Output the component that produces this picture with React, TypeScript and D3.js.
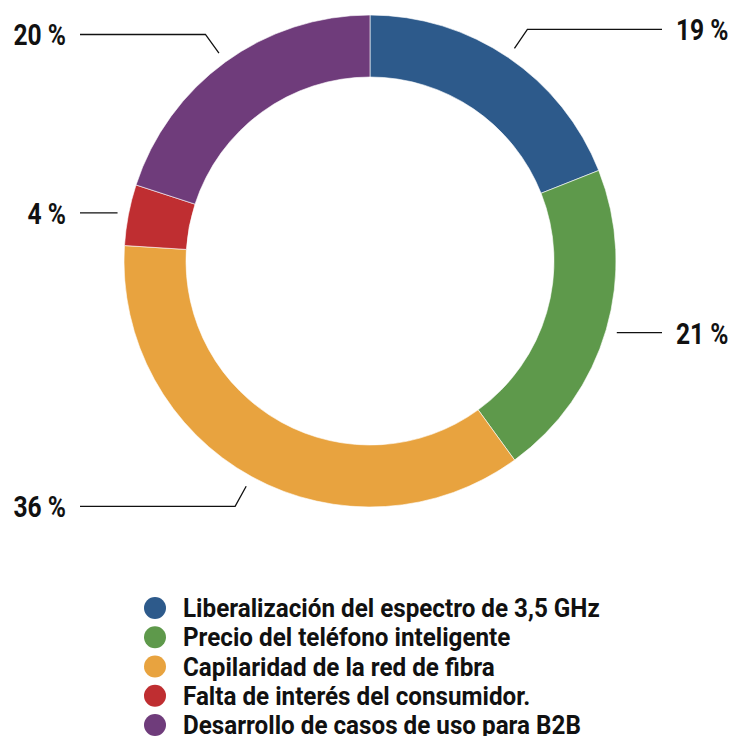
import React, { useEffect, useRef } from 'react';
import * as d3 from 'd3';

const categories = [
  'Liberalización del espectro de 3,5 GHz',
  'Precio del teléfono inteligente',
  'Capilaridad de la red de fibra',
  'Falta de interés del consumidor.',
  'Desarrollo de casos de uso para B2B',
];
const values = [19, 21, 36, 4, 20];
const colors = ['#2d5a8b', '#5e994b', '#e8a33f', '#bf2e31', '#6f3c7b'];

const FONT = 'Roboto, "DejaVu Sans", sans-serif';

const App = () => {
  const svgRef = useRef<SVGSVGElement>(null);

  useEffect(() => {
    const svg = d3.select(svgRef.current);
    svg.selectAll('*').remove();

    const cx = 370;
    const cy = 261;
    const outerR = 246;
    const innerR = 184;

    const data = values.map((v, i) => ({ name: categories[i], value: v, color: colors[i] }));

    const pie = d3.pie<any>().sort(null).value((d) => d.value);
    const arcs = pie(data);
    const arcGen = d3.arc<any>().innerRadius(innerR).outerRadius(outerR);

    const g = svg.append('g').attr('transform', `translate(${cx},${cy})`);

    g.selectAll('path.slice')
      .data(arcs)
      .join('path')
      .attr('class', 'slice')
      .attr('d', arcGen)
      .attr('fill', (d) => d.data.color)
      .attr('stroke', '#ffffff')
      .attr('stroke-width', 0.6);

    // leader lines + labels
    const r1 = 257;
    const r2 = 280;
    arcs.forEach((a) => {
      const mid = (a.startAngle + a.endAngle) / 2;
      const sx = Math.sin(mid);
      const sy = -Math.cos(mid);
      const p1: [number, number] = [sx * r1, sy * r1];
      let p2: [number, number] = [sx * r2, sy * r2];
      if (Math.abs(sx) > 0.9) p2 = [p1[0], p1[1]];
      const right = sx > 0;
      const endX = right ? 662 - cx : 80 - cx;
      const pts: [number, number][] = [p1, p2, [endX, p2[1]]];
      g.append('path')
        .attr('d', d3.line()(pts) as string)
        .attr('fill', 'none')
        .attr('stroke', '#111')
        .attr('stroke-width', 1.3);
      g.append('text')
        .attr('transform', `translate(${right ? 676 - cx : 66 - cx},${p2[1]}) scale(0.82,1)`)
        .attr('dy', '0.36em')
        .attr('text-anchor', right ? 'start' : 'end')
        .attr('font-family', FONT)
        .attr('font-weight', 700)
        .attr('font-size', 30)
        .attr('fill', '#111')
        .text(`${a.data.value} %`);
    });

    // legend
    const legendY = d3.scalePoint<string>().domain(categories).range([608, 725]);
    const lg = svg.append('g');
    const rows = lg.selectAll('g.row').data(data).join('g').attr('class', 'row')
      .attr('transform', (d) => `translate(0,${legendY(d.name)})`);
    rows.append('circle')
      .attr('cx', 155)
      .attr('cy', 0)
      .attr('r', 11)
      .attr('fill', (d) => d.color);
    rows.append('text')
      .attr('transform', 'translate(183,0) scale(0.95,1)')
      .attr('dy', '0.36em')
      .attr('font-family', FONT)
      .attr('font-weight', 700)
      .attr('font-size', 25.5)
      .attr('fill', '#111')
      .text((d) => d.name);
  }, []);

  return (
    <svg
      ref={svgRef}
      width={733}
      height={736}
      style={{ position: 'absolute', left: 0, top: 0, background: '#fff' }}
    />
  );
};

export default App;
